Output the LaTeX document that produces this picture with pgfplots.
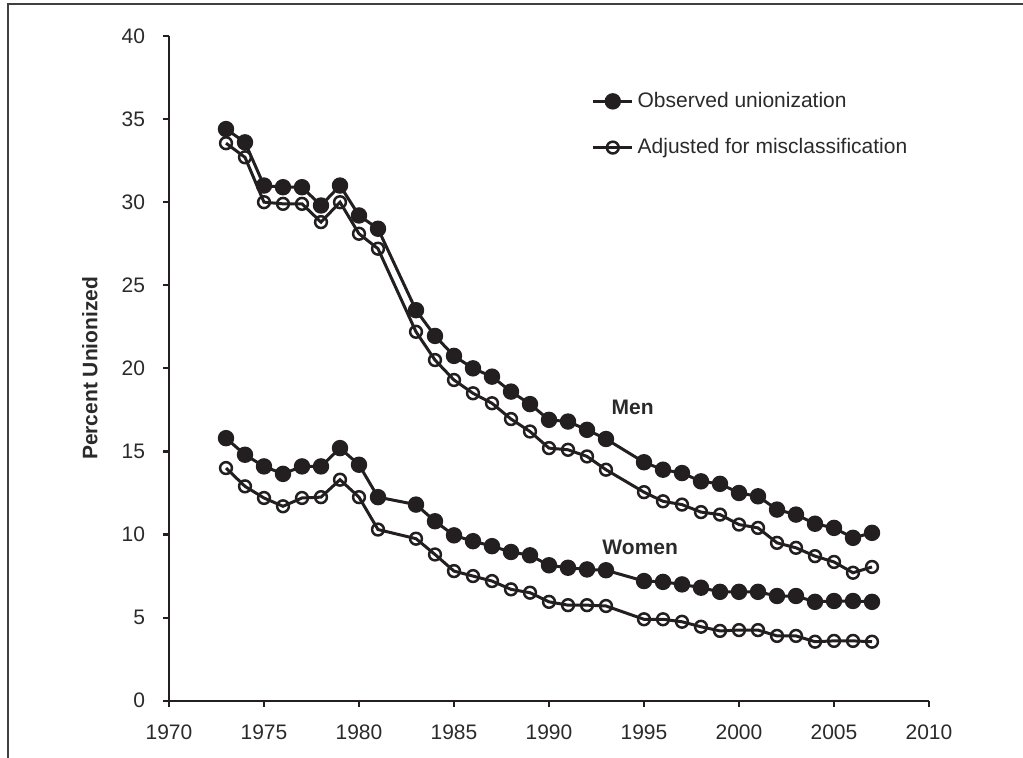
\documentclass[border=0pt]{standalone}
\usepackage{pgfplots}
\pgfplotsset{compat=1.18}
\usepackage{fontspec}
\setmainfont{Liberation Sans}
\definecolor{ink}{HTML}{231F20}
\definecolor{txt}{HTML}{2A2A2A}

\pgfplotstableread{
year mobs madj wobs wadj
1973 34.4 33.55 15.8 14.0
1974 33.6 32.7 14.8 12.9
1975 31.0 30.0 14.1 12.2
1976 30.9 29.9 13.65 11.7
1977 30.9 29.9 14.1 12.2
1978 29.8 28.8 14.1 12.25
1979 31.0 30.0 15.2 13.3
1980 29.2 28.1 14.2 12.25
1981 28.4 27.2 12.25 10.3
1983 23.5 22.2 11.8 9.75
1984 21.95 20.5 10.8 8.8
1985 20.75 19.3 9.95 7.8
1986 20.0 18.5 9.6 7.5
1987 19.5 17.9 9.3 7.2
1988 18.6 16.95 8.95 6.7
1989 17.85 16.2 8.75 6.5
1990 16.9 15.2 8.15 5.95
1991 16.8 15.1 8.0 5.75
1992 16.3 14.7 7.9 5.75
1993 15.75 13.9 7.85 5.7
1995 14.35 12.55 7.2 4.9
1996 13.9 12.0 7.15 4.9
1997 13.7 11.8 7.0 4.75
1998 13.2 11.35 6.8 4.45
1999 13.05 11.2 6.55 4.2
2000 12.5 10.6 6.55 4.25
2001 12.3 10.4 6.55 4.25
2002 11.5 9.5 6.3 3.9
2003 11.2 9.2 6.3 3.9
2004 10.65 8.7 5.95 3.55
2005 10.4 8.35 6.0 3.6
2006 9.8 7.7 6.0 3.6
2007 10.1 8.05 5.95 3.55
}\data

\begin{document}
\begin{tikzpicture}[x=0.5pt,y=0.5pt]
\useasboundingbox (0,0) rectangle (1023,757);
\draw[line width=0.8pt, black!75] (8,-20) -- (8,753) -- (1040,753);
\begin{axis}[
  scale only axis,
  width=380pt, height=332.35pt,
  at={(84.5pt,28.15pt)}, anchor=south west,
  xmin=1970, xmax=2010, ymin=0, ymax=40,
  xtick={1970,1975,...,2010}, ytick={0,5,...,40},
  axis x line*=bottom, axis y line*=left,
  axis line style={line width=1.2pt, ink, -},
  tick align=outside, major tick length=3pt,
  tick style={line width=1.1pt, ink},
  xticklabel style={/pgf/number format/1000 sep={}, font=\fontsize{10.5}{12}\selectfont, txt, yshift=-5.5pt},
  yticklabel style={font=\fontsize{10.5}{12}\selectfont, txt, xshift=-5.5pt},
  /pgf/number format/assume math mode=true,
  xtick pos=bottom, ytick pos=left,
  ylabel={\textbf{Percent Unionized}},
  ylabel style={at={(axis description cs:-0.104,0.5)}, anchor=center, font=\fontsize{10.5}{12}\selectfont, txt},
  legend style={draw=none, fill=none, at={(0.556,0.922)}, anchor=north west,
    font=\fontsize{10.5}{12}\selectfont, text=txt, row sep=10pt, inner sep=0pt,
    legend cell align=left},
  legend image code/.code={
    \draw[#1, mark repeat=2, mark phase=2] plot coordinates {(0cm,0cm) (0.34cm,0cm) (0.68cm,0cm)};},
  clip=false,
]
\addplot[ink, line width=1.5pt, mark=*, mark size=3.35pt, mark options={fill=ink, draw=ink}]
  table[x=year, y=mobs] {\data};
\addlegendentry{Observed unionization}
\addplot[ink, line width=1.5pt, mark=o, mark size=2.95pt, mark options={fill=white, draw=ink, line width=1.25pt}]
  table[x=year, y=madj] {\data};
\addlegendentry{Adjusted for misclassification}
\addplot[ink, line width=1.5pt, mark=*, mark size=3.35pt, mark options={fill=ink, draw=ink}, forget plot]
  table[x=year, y=wobs] {\data};
\addplot[ink, line width=1.5pt, mark=o, mark size=2.95pt, mark options={fill=white, draw=ink, line width=1.25pt}, forget plot]
  table[x=year, y=wadj] {\data};
\node[font=\bfseries\fontsize{10.5}{12}\selectfont, txt] at (axis cs:1994.4,17.65) {Men};
\node[font=\bfseries\fontsize{10.5}{12}\selectfont, txt] at (axis cs:1994.8,9.2) {Women};
\end{axis}
\end{tikzpicture}
\end{document}
